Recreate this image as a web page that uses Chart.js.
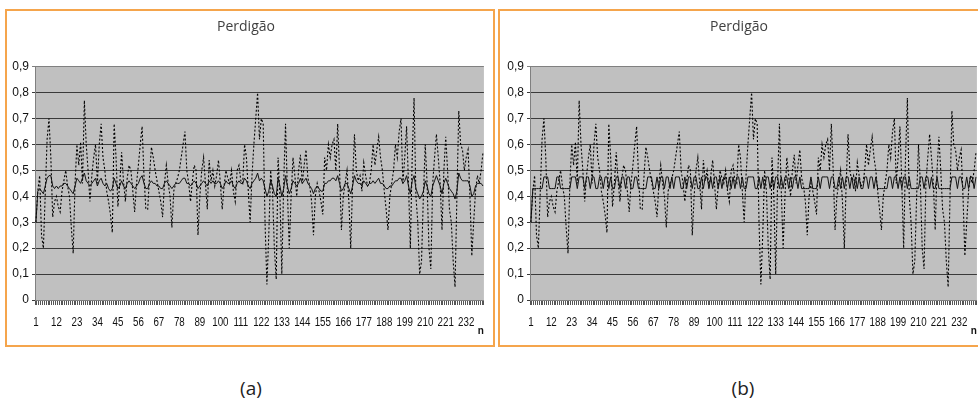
<!DOCTYPE html>
<html lang="pt">
<head>
<meta charset="UTF-8">
<title>Perdigão</title>
<script src="https://cdn.jsdelivr.net/npm/chart.js/dist/chart.umd.min.js"></script>
<style>
  body { margin: 0; width: 978px; height: 400px; overflow: hidden; background: #fff; position: relative; }
  .frame { position: absolute; top: 9px; width: 486px; height: 334px; border: 2px solid #f5a54c; background: #fff; }
  #frameA { left: 5px; }
  #frameB { left: 498px; }
  .frame canvas { display: block; }
  .cap { position: absolute; top: 375px; width: 60px; margin-left: -30px; text-align: center;
         font-family: "Open Sans", sans-serif; font-size: 19px; color: #222; }
</style>
</head>
<body>
<div class="frame" id="frameA"><canvas id="chartA" width="486" height="334"></canvas></div>
<div class="frame" id="frameB"><canvas id="chartB" width="486" height="334"></canvas></div>
<div class="cap" style="left:251px">(a)</div>
<div class="cap" style="left:743px">(b)</div>
<script>
// tick labels shown on the x axis (every 11th observation)
const tickLabels = [1, 12, 23, 34, 45, 56, 67, 78, 89, 100, 111, 122, 133, 144, 155, 166, 177, 188, 199, 210, 221, 232];
const yTicks = [0, 0.1, 0.2, 0.3, 0.4, 0.5, 0.6, 0.7, 0.8, 0.9];

// observed series (dotted), same in both panels
const observed = [
  0.30,0.42,0.48,0.25,0.20,0.41,0.62,0.70,0.55,0.32,
  0.38,0.40,0.36,0.34,0.42,0.46,0.50,0.44,0.40,0.28,
  0.18,0.45,0.60,0.52,0.61,0.45,0.77,0.60,0.50,0.38,
  0.48,0.55,0.60,0.45,0.60,0.68,0.55,0.50,0.42,0.38,
  0.33,0.26,0.68,0.55,0.36,0.45,0.57,0.46,0.38,0.47,
  0.52,0.50,0.42,0.34,0.45,0.52,0.60,0.67,0.48,0.35,
  0.35,0.48,0.59,0.55,0.50,0.46,0.42,0.38,0.32,0.45,
  0.52,0.45,0.40,0.28,0.42,0.45,0.47,0.50,0.55,0.60,
  0.65,0.50,0.45,0.38,0.46,0.52,0.50,0.25,0.40,0.50,
  0.55,0.45,0.35,0.54,0.46,0.50,0.44,0.48,0.54,0.45,
  0.35,0.44,0.50,0.47,0.45,0.50,0.42,0.38,0.50,0.52,
  0.46,0.45,0.60,0.55,0.42,0.30,0.48,0.60,0.70,0.80,
  0.62,0.70,0.68,0.30,0.06,0.25,0.50,0.42,0.20,0.08,
  0.55,0.40,0.10,0.45,0.68,0.42,0.20,0.40,0.55,0.48,
  0.40,0.50,0.56,0.45,0.52,0.58,0.47,0.44,0.38,0.25,
  0.40,0.45,0.42,0.38,0.33,0.55,0.50,0.60,0.55,0.60,
  0.62,0.50,0.68,0.50,0.27,0.40,0.45,0.50,0.38,0.20,
  0.45,0.64,0.50,0.46,0.48,0.42,0.53,0.48,0.44,0.45,
  0.50,0.60,0.52,0.58,0.63,0.55,0.50,0.42,0.35,0.27,
  0.40,0.45,0.50,0.60,0.55,0.65,0.70,0.45,0.55,0.67,
  0.45,0.20,0.55,0.78,0.40,0.30,0.10,0.15,0.40,0.60,
  0.45,0.20,0.12,0.45,0.55,0.64,0.55,0.45,0.27,0.50,
  0.63,0.50,0.35,0.30,0.15,0.05,0.40,0.73,0.60,0.58,
  0.50,0.55,0.58,0.40,0.17,0.30,0.42,0.48,0.45,0.50,0.57
];

// fitted series, panel (a)
const fittedA = [
  0.30,0.42,0.43,0.42,0.41,0.44,0.47,0.48,0.48,0.44,
  0.43,0.44,0.43,0.44,0.44,0.45,0.45,0.44,0.43,0.42,
  0.41,0.44,0.47,0.46,0.45,0.47,0.49,0.46,0.45,0.44,
  0.45,0.46,0.47,0.44,0.46,0.47,0.45,0.44,0.45,0.43,
  0.42,0.43,0.47,0.45,0.43,0.44,0.46,0.44,0.43,0.45,
  0.46,0.45,0.44,0.43,0.44,0.45,0.47,0.48,0.45,0.43,
  0.43,0.45,0.46,0.45,0.45,0.44,0.44,0.43,0.43,0.45,
  0.46,0.45,0.44,0.43,0.44,0.45,0.45,0.45,0.46,0.47,
  0.47,0.45,0.45,0.44,0.45,0.46,0.45,0.43,0.44,0.45,
  0.46,0.45,0.44,0.46,0.45,0.46,0.45,0.45,0.46,0.45,
  0.43,0.44,0.46,0.45,0.45,0.46,0.44,0.43,0.45,0.46,
  0.45,0.45,0.47,0.46,0.44,0.43,0.45,0.46,0.47,0.49,
  0.46,0.47,0.46,0.43,0.40,0.42,0.46,0.44,0.41,0.40,
  0.47,0.44,0.40,0.43,0.48,0.44,0.41,0.43,0.46,0.45,
  0.44,0.45,0.47,0.45,0.46,0.47,0.45,0.44,0.43,0.41,
  0.43,0.44,0.43,0.42,0.42,0.45,0.45,0.46,0.46,0.47,
  0.47,0.46,0.48,0.45,0.42,0.43,0.45,0.45,0.43,0.41,
  0.44,0.48,0.46,0.45,0.45,0.44,0.46,0.45,0.44,0.45,
  0.45,0.46,0.45,0.46,0.47,0.45,0.45,0.44,0.43,0.43,
  0.44,0.44,0.45,0.46,0.46,0.47,0.47,0.45,0.46,0.48,
  0.44,0.41,0.46,0.48,0.43,0.41,0.39,0.40,0.42,0.46,
  0.44,0.41,0.40,0.44,0.46,0.48,0.46,0.44,0.41,0.45,
  0.47,0.45,0.43,0.42,0.41,0.39,0.42,0.49,0.47,0.46,
  0.46,0.46,0.46,0.44,0.40,0.41,0.44,0.45,0.45,0.45,0.44
];

// fitted series, panel (b): two regimes
const H = 0.475, L = 0.43;
const fittedB = [
  0.30,L,L,L,L,L,L,H,H,H,
  L,L,L,L,H,H,L,L,L,L,
  L,L,H,H,H,L,H,H,H,L,
  H,H,L,H,H,L,L,H,H,L,
  H,H,L,H,L,L,H,H,L,H,
  H,L,H,H,L,L,H,H,L,L,
  L,L,L,H,H,H,L,L,H,L,
  H,H,L,H,H,L,H,L,H,H,
  H,L,L,H,L,H,H,L,H,H,
  L,L,H,L,H,H,L,H,L,H,
  H,L,H,L,H,H,L,H,L,H,
  L,H,H,L,H,L,L,H,H,H,
  H,L,L,H,L,H,L,H,H,L,
  H,L,H,H,L,H,L,H,H,L,
  H,L,H,H,L,H,L,L,L,L,
  L,H,L,L,L,H,L,H,H,H,
  H,L,H,H,L,L,H,L,H,L,
  H,H,L,H,L,H,L,H,L,L,
  H,H,L,H,H,L,H,L,L,L,
  L,L,L,H,H,L,H,H,L,H,
  L,H,H,L,H,L,L,L,L,L,
  H,H,L,H,H,L,H,L,L,H,
  L,L,L,L,L,L,L,H,H,H,
  L,H,H,L,L,H,L,H,H,L,H
];

const categories = observed.map((v, i) => i + 1);

const plotBg = {
  id: 'plotBg',
  beforeDraw(chart) {
    const { ctx, chartArea: a } = chart;
    ctx.save();
    ctx.fillStyle = '#c0c0c0';
    ctx.fillRect(a.left, a.top, a.right - a.left, a.bottom - a.top);
    ctx.restore();
  }
};

// x labels drawn condensed (Excel used a narrow face)
const narrowXLabels = {
  id: 'narrowXLabels',
  afterDraw(chart) {
    const sx = chart.scales.x, ctx = chart.ctx;
    ctx.save();
    ctx.fillStyle = '#111';
    ctx.font = "13px 'Liberation Sans', Arial";
    ctx.textAlign = 'center';
    ctx.textBaseline = 'middle';
    tickLabels.forEach(lab => {
      const x = sx.getPixelForValue(categories.indexOf(lab));
      ctx.save();
      ctx.translate(x, sx.top + 22);
      ctx.scale(0.75, 1);
      ctx.fillText(String(lab), 0, 0);
      ctx.restore();
    });
    ctx.restore();
  }
};

const axisFont = { family: "'Liberation Sans', Arial", size: 12 };

function makeChart(id, fitted, leftWidth) {
  new Chart(document.getElementById(id).getContext('2d'), {
    type: 'line',
    data: {
      labels: categories,
      datasets: [
        { data: fitted, borderColor: '#111', borderWidth: 1, pointRadius: 0, tension: 0 },
        { data: observed, borderColor: '#000', borderWidth: 1.1, borderDash: [2, 2], pointRadius: 0, tension: 0 }
      ]
    },
    options: {
      responsive: false,
      animation: false,
      events: [],
      layout: { padding: { left: 0, right: 8, top: 0, bottom: 8 } },
      plugins: {
        legend: { display: false },
        tooltip: { enabled: false },
        title: {
          display: true, text: 'Perdigão', color: '#404040',
          font: { family: "'Open Sans', 'Noto Sans', sans-serif", size: 14, weight: 'normal' },
          padding: { top: 8, bottom: 31 }
        }
      },
      scales: {
        x: {
          offset: true,
          afterFit: (s) => { s.height = 37; },
          grid: { display: true, drawOnChartArea: false, drawTicks: true, tickLength: 5, color: '#555', offset: true },
          border: { color: '#808080' },
          ticks: { autoSkip: false, maxRotation: 0, minRotation: 0, padding: 10, font: axisFont, callback: () => '' },
          title: { display: true, text: 'n', align: 'end', color: '#111', padding: 0,
                   font: { family: 'Arial', size: 10, weight: 'bold' } }
        },
        y: {
          min: 0, max: 0.9,
          afterFit: (s) => { s.width = leftWidth; },
          afterBuildTicks: (s) => { s.ticks = yTicks.map(v => ({ value: v })); },
          grid: {
            tickLength: 3,
            color: (c) => (c.tick && c.tick.value === 0.9 ? '#808080' : '#3a3a3a')
          },
          border: { color: '#808080' },
          ticks: {
            padding: 3, color: '#111', font: axisFont,
            callback: (v) => (v === 0 ? '0' : v.toFixed(1).replace('.', ','))
          }
        }
      }
    },
    plugins: [plotBg, narrowXLabels]
  });
}

makeChart('chartA', fittedA, 28);
makeChart('chartB', fittedB, 30);
</script>
</body>
</html>
